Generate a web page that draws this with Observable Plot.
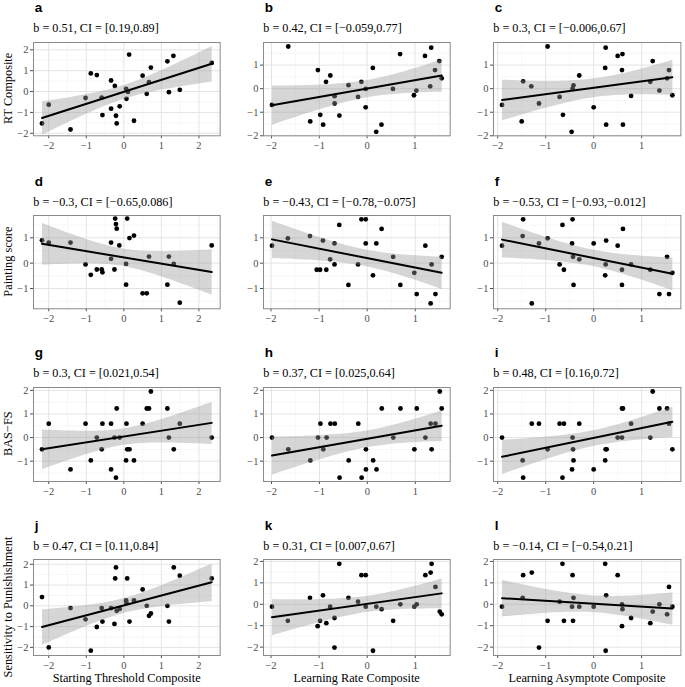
<!DOCTYPE html>
<html><head><meta charset="utf-8">
<script src="https://cdn.jsdelivr.net/npm/d3@7"></script>
<script src="https://cdn.jsdelivr.net/npm/@observablehq/plot@0.6"></script>
<style>
html,body{margin:0;padding:0;background:#fff;}
#root{position:relative;width:685px;height:687px;overflow:hidden;background:#fff;}
.panel{position:absolute;}
#overlay{position:absolute;left:0;top:0;pointer-events:none;}
</style></head><body><div id="root"></div>
<script>
// ---- data ----
const aX = [-2.18,-2.0,-1.42,-1.02,-0.88,-0.72,-0.59,-0.57,-0.34,-0.34,-0.24,-0.21,-0.19,-0.11,0.06,0.07,0.11,0.14,0.27,0.50,0.61,0.67,0.72,1.16,1.20,1.32,1.49,2.34];
const aY = [-1.53,-0.63,-1.82,-0.31,0.87,0.79,-0.29,-1.13,0.53,-0.82,0.27,-1.16,-1.53,-0.71,0.13,-0.35,-0.02,1.77,-1.40,0.76,-0.11,0.45,1.15,1.45,-0.03,1.71,0.08,1.37];
const bX = [-1.99,-1.65,-1.19,-1.03,-0.98,-0.92,-0.86,-0.77,-0.68,-0.68,-0.58,-0.39,-0.19,-0.12,-0.03,-0.03,0.12,0.19,0.30,0.54,0.69,0.98,1.03,1.21,1.32,1.34,1.42,1.51,1.56];
const bY = [-0.69,1.79,-1.39,0.79,-1.11,-1.53,0.29,0.56,-0.32,-0.63,-1.14,0.15,-0.35,0.29,-0.01,-0.79,0.88,-1.83,-1.53,-0.01,1.47,-0.28,-0.08,1.39,0.10,1.74,0.79,1.17,0.44];
const cX = [-1.91,-1.50,-1.47,-1.30,-1.14,-0.96,-0.71,-0.64,-0.46,-0.42,-0.44,-0.30,0.0,0.24,0.25,0.26,0.50,0.60,0.59,0.61,0.78,1.18,1.23,1.37,1.53,1.57,1.64];
const cY = [-0.69,-1.39,0.31,0.10,-0.63,1.79,-0.35,-1.11,-1.83,0.14,0.0,0.56,-0.79,0.88,1.74,-1.53,1.39,1.47,0.79,-1.53,-0.31,0.29,1.17,-0.08,0.44,0.79,-0.28];
const dX = [-2.18,-2.0,-1.42,-1.02,-0.88,-0.72,-0.59,-0.57,-0.34,-0.34,-0.25,-0.23,-0.21,-0.19,-0.12,0.06,0.06,0.09,0.15,0.27,0.50,0.61,0.67,1.16,1.20,1.33,1.49,2.34];
const dY = [0.90,0.81,0.81,-0.05,-0.46,-0.25,-0.25,-0.36,0.81,0.17,-0.25,1.76,1.54,1.36,0.70,-0.85,-0.03,1.76,0.99,1.09,-1.19,-1.19,0.26,-0.85,0.26,-0.03,-1.56,0.70];
const eX = [-1.98,-1.65,-1.19,-1.05,-0.98,-0.92,-0.85,-0.77,-0.68,-0.68,-0.58,-0.39,-0.19,-0.12,-0.03,-0.03,0.12,0.19,0.30,0.54,0.69,0.98,1.03,1.21,1.32,1.34,1.42,1.55];
const eY = [0.69,0.98,1.07,-0.26,-0.26,0.89,-0.26,0.15,-0.05,0.78,1.51,-0.86,-0.05,1.73,1.73,0.78,-0.48,0.78,1.35,0.25,-0.86,-0.38,-1.22,0.69,-1.59,-0.05,-1.22,0.25];
const fX = [-1.91,-1.48,-1.47,-1.29,-1.14,-0.96,-0.71,-0.65,-0.62,-0.45,-0.44,-0.43,-0.42,-0.30,0.0,0.24,0.25,0.26,0.50,0.59,0.59,0.61,0.78,1.18,1.37,1.53,1.57,1.64];
const fY = [0.69,1.07,1.73,-1.59,0.78,0.98,-0.05,1.51,-0.26,0.78,1.73,0.25,-0.86,0.15,0.78,-0.48,-0.05,0.89,0.69,-0.26,-0.86,1.35,-0.05,-0.26,-1.22,0.25,-1.22,-0.38];
const gX = [-2.18,-2.0,-1.42,-1.02,-0.88,-0.72,-0.59,-0.57,-0.34,-0.34,-0.25,-0.21,-0.19,-0.11,0.06,0.07,0.09,0.15,0.27,0.50,0.61,0.67,0.72,1.16,1.20,1.33,1.49,2.34];
const gY = [-0.50,0.59,-1.35,0.59,-0.97,0.0,-0.50,0.59,0.59,-1.35,0.0,-1.70,1.23,0.0,-0.97,0.59,-0.50,-0.50,-0.97,0.59,1.23,1.23,1.95,1.23,0.0,-0.50,0.59,0.0];
const hX = [-1.99,-1.65,-1.19,-1.03,-0.98,-0.92,-0.85,-0.77,-0.68,-0.58,-0.39,-0.19,-0.12,-0.03,-0.03,0.12,0.19,0.30,0.54,0.69,0.98,1.03,1.21,1.32,1.34,1.42,1.51,1.55];
const hY = [0,-0.50,-0.97,0,0.59,-0.50,0,0.59,0.59,-1.70,-0.97,0.59,-1.70,-1.35,-0.50,-0.97,-1.35,1.23,0,1.23,-0.50,1.23,0,0.59,-0.50,0.59,1.95,1.23];
const iX = [-1.91,-1.48,-1.47,-1.29,-1.14,-0.96,-0.71,-0.65,-0.62,-0.45,-0.44,-0.43,-0.42,-0.30,0.0,0.24,0.25,0.27,0.50,0.59,0.59,0.61,0.78,1.18,1.23,1.37,1.53,1.57,1.64];
const iY = [0,-0.97,-1.70,0.59,0.59,-0.50,0.59,-1.70,0.59,-1.35,0,-0.50,-0.97,0.59,-1.35,-0.97,-0.50,-0.50,0,0,1.23,1.23,0.59,0,1.95,1.23,1.23,0.59,-0.50];
const jX = [-2.18,-2.0,-1.42,-1.02,-0.88,-0.72,-0.59,-0.57,-0.34,-0.25,-0.21,-0.23,-0.19,-0.11,0.06,0.07,0.09,0.15,0.27,0.50,0.61,0.67,0.72,1.16,1.20,1.33,1.49,2.34];
const jY = [0.42,-2.0,-0.11,-0.65,-2.16,-1.02,-0.11,-0.76,-0.11,-0.87,1.85,1.32,-0.24,-0.15,0.26,0.15,1.32,-0.76,0.26,0.79,0.0,-0.48,-0.37,0.0,-0.76,1.85,1.45,1.32];
const kX = [-1.98,-1.65,-1.19,-1.03,-0.98,-0.92,-0.85,-0.77,-0.68,-0.68,-0.58,-0.39,-0.19,-0.12,-0.03,-0.03,0.12,0.19,0.30,0.54,0.69,0.98,1.03,1.21,1.32,1.34,1.42,1.51,1.55];
const kY = [-0.11,-0.77,0.30,-1.02,-0.77,0.42,-0.88,-0.11,-0.64,-2.02,1.89,0.30,0.12,1.36,1.36,-0.11,-2.17,-0.11,-0.23,-0.77,0,-0.11,0,1.36,1.48,1.89,0.81,-0.34,-0.47];
const lX = [-1.91,-1.48,-1.47,-1.29,-1.14,-0.96,-0.71,-0.65,-0.62,-0.45,-0.44,-0.42,-0.43,-0.30,0.0,0.24,0.25,0.26,0.50,0.59,0.60,0.59,0.78,1.18,1.23,1.37,1.53,1.57,1.64];
const lY = [-0.11,0.30,1.36,1.48,-2.02,-0.77,0.12,1.89,-0.77,-0.11,1.36,0.30,-0.77,-0.11,-0.11,1.89,-2.17,0.42,1.36,0,-0.23,-1.02,-0.64,-0.88,-0.34,0,-0.47,0.81,-0.11];

const panelLetters = ["a","b","c","d","e","f","g","h","i","j","k","l"];
const panelXs = [aX,bX,cX,dX,eX,fX,gX,hX,iX,jX,kX,lX];
const panelYs = [aY,bY,cY,dY,eY,fY,gY,hY,iY,jY,kY,lY];
const subtitles = [
  "b = 0.51, CI = [0.19,0.89]", "b = 0.42, CI = [\u22120.059,0.77]", "b = 0.3, CI = [\u22120.006,0.67]",
  "b = \u22120.3, CI = [\u22120.65,0.086]", "b = \u22120.43, CI = [\u22120.78,\u22120.075]", "b = \u22120.53, CI = [\u22120.93,\u22120.012]",
  "b = 0.3, CI = [0.021,0.54]", "b = 0.37, CI = [0.025,0.64]", "b = 0.48, CI = [0.16,0.72]",
  "b = 0.47, CI = [0.11,0.84]", "b = 0.31, CI = [0.007,0.67]", "b = \u22120.14, CI = [\u22120.54,0.21]"
];
const xTitles = ["Starting Threshold Composite","Learning Rate Composite","Learning Asymptote Composite"];
const yTitles = ["RT Composite","Painting score","BAS\u2212FS","Sensitivity to Punishishment"];
const yDomains = [
  [-2.12,2.35],[-2.0,1.96],[-2.0,1.96],
  [-1.8,1.88],[-1.8,1.88],[-1.8,1.88],
  [-1.86,2.12],[-1.86,2.12],[-1.86,2.12],
  [-2.39,2.23],[-2.39,2.09],[-2.39,2.09]
];

// ---- layout ----
const colLeft = [33.3, 263.3, 493.3], colRight = [220, 450, 680.7];
const rowTop = [41.7, 215, 386.7, 559], rowBottom = [135, 308.3, 480.7, 655];
const ML = 30, MT = 5, MR = 3, MB = 20;
const serif = "'Liberation Serif','Times New Roman',Times,serif";
const fmt = d => d < 0 ? "\u2212" + Math.abs(d) : String(d);

const root = document.getElementById("root");

panelLetters.forEach((letter, p) => {
  const r = Math.floor(p / 3), c = p % 3;
  const X = panelXs[p], Y = panelYs[p];
  const pts = X.map((x, i) => ({x, y: Y[i]}));
  const [x0, x1] = d3.extent(X);
  const xpad = (x1 - x0) * 0.05;
  const xDom = [x0 - xpad, x1 + xpad];
  const yDom = yDomains[p];
  const xMajor = d3.range(Math.ceil(xDom[0]), Math.floor(xDom[1]) + 1);
  const yMajor = d3.range(Math.ceil(yDom[0]), Math.floor(yDom[1]) + 1);
  const xMinor = d3.range(Math.ceil(xDom[0] - 0.5), Math.floor(xDom[1] - 0.5) + 1).map(v => v + 0.5);
  const yMinor = d3.range(Math.ceil(yDom[0] - 0.5), Math.floor(yDom[1] - 0.5) + 1).map(v => v + 0.5);
  const pw = colRight[c] - colLeft[c], ph = rowBottom[r] - rowTop[r];
  const svg = Plot.plot({
    width: pw + ML + MR, height: ph + MT + MB,
    marginLeft: ML, marginTop: MT, marginRight: MR, marginBottom: MB,
    style: {fontFamily: serif, fontSize: "10.5px", color: "#4d4d4d", background: "transparent", overflow: "visible"},
    x: {domain: xDom, ticks: xMajor, tickFormat: fmt, tickSize: 3, tickPadding: 3, label: null},
    y: {domain: yDom, ticks: yMajor, tickFormat: fmt, tickSize: 3, tickPadding: 2, label: null},
    marks: [
      Plot.ruleX(xMinor, {stroke: "#f2f2f2", strokeWidth: 0.6}),
      Plot.ruleY(yMinor, {stroke: "#f2f2f2", strokeWidth: 0.6}),
      Plot.ruleX(xMajor, {stroke: "#e4e4e4", strokeWidth: 1}),
      Plot.ruleY(yMajor, {stroke: "#e4e4e4", strokeWidth: 1}),
      Plot.dot(pts, {x: "x", y: "y", r: 2.4, fill: "black", stroke: "none"}),
      Plot.linearRegressionY(pts, {x: "x", y: "y", stroke: "black", strokeWidth: 2, fill: "#999999", fillOpacity: 0.4}),
      Plot.frame({stroke: "#8a8a8a", strokeWidth: 1})
    ]
  });
  const div = document.createElement("div");
  div.className = "panel";
  div.style.left = (colLeft[c] - ML) + "px";
  div.style.top = (rowTop[r] - MT) + "px";
  div.appendChild(svg);
  root.appendChild(div);
});

// ---- text overlay ----
const ov = d3.select(root).append("svg").attr("id", "overlay").attr("width", 685).attr("height", 687);
panelLetters.forEach((letter, p) => {
  const r = Math.floor(p / 3), c = p % 3;
  ov.append("text").attr("x", colLeft[c] + 1.5).attr("y", rowTop[r] - 29.5)
    .attr("font-family", "'Liberation Sans',Arial,Helvetica,sans-serif").attr("font-weight", "bold")
    .attr("font-size", 13.5).attr("fill", "#000").text(letter);
  ov.append("text").attr("x", colLeft[c]).attr("y", rowTop[r] - 9.5)
    .attr("font-family", serif).attr("font-size", 12.2).attr("fill", "#000").text(subtitles[p]);
});
yTitles.forEach((t, r) => {
  const cy = (rowTop[r] + rowBottom[r]) / 2;
  ov.append("text").attr("transform", `translate(11.5,${cy}) rotate(-90)`).attr("text-anchor", "middle")
    .attr("font-family", serif).attr("font-size", 12.3).attr("fill", "#000").text(t);
});
xTitles.forEach((t, c) => {
  ov.append("text").attr("x", (colLeft[c] + colRight[c]) / 2).attr("y", 681.5).attr("text-anchor", "middle")
    .attr("font-family", serif).attr("font-size", 12.3).attr("fill", "#000").text(t);
});
</script>
</body></html>
